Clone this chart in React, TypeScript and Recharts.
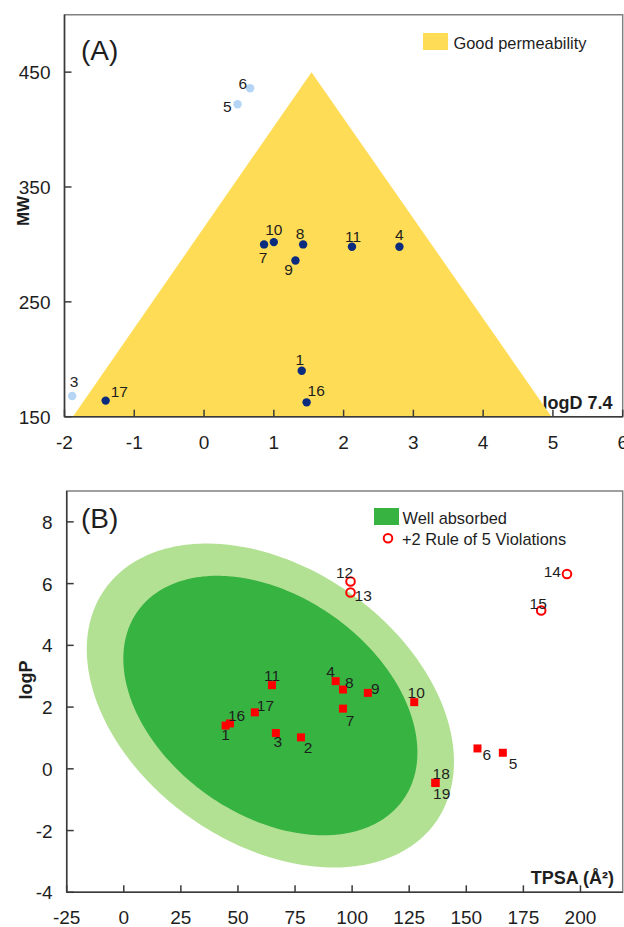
import React from "react";
import { ComposedChart, Area, Scatter, XAxis, YAxis, ReferenceArea } from "recharts";

const FONT = "'Liberation Sans', Arial, Helvetica, sans-serif";
const AXIS = "#3a3a3a";
const FRAME = "#808080";
const TEXT = "#1e1e1e";

// ---------------- Panel A data ----------------
const aXTicks = [-2, -1, 0, 1, 2, 3, 4, 5, 6];
const aYTicks = [150, 250, 350, 450];
const aDomainX: [number, number] = [-2, 6];
const aDomainY: [number, number] = [150, 500];

// "Good permeability" triangle vertices (logD, MW)
const permeabilityLogD = [-1.88, 1.54, 4.98];
const permeabilityMW = [150, 450, 150];

const aGoodIds = [1, 4, 7, 8, 9, 10, 11, 16, 17];
const aGoodLogD = [1.4, 2.8, 0.86, 1.42, 1.31, 1.0, 2.12, 1.47, -1.41];
const aGoodMW = [190, 298, 300, 300, 286, 302, 298, 162.5, 164];

const aPoorIds = [3, 5, 6];
const aPoorLogD = [-1.89, 0.48, 0.66];
const aPoorMW = [168, 422, 436];

// ---------------- Panel B data ----------------
const bXTicks = [-25, 0, 25, 50, 75, 100, 125, 150, 175, 200];
const bYTicks = [-4, -2, 0, 2, 4, 6, 8];
const bDomainX: [number, number] = [-25, 218.5];
const bDomainY: [number, number] = [-4, 9];

const bIds = [1, 2, 3, 4, 5, 6, 7, 8, 9, 10, 11, 16, 17, 18, 19];
const bTPSA = [44.6, 77.6, 66.6, 92.8, 166.0, 154.9, 96.0, 96.0, 106.9, 127.2, 64.9, 46.5, 57.4, 136.4, 136.6];
const bLogP = [1.4, 1.02, 1.16, 2.84, 0.52, 0.66, 1.95, 2.57, 2.46, 2.16, 2.71, 1.47, 1.83, -0.45, -0.46];

const violIds = [12, 13, 14, 15];
const violTPSA = [99.3, 99.3, 194.1, 182.8];
const violLogP = [6.07, 5.71, 6.31, 5.13];

// Absorption ellipses: centre and conjugate semi-axis vectors (TPSA, logP)
const eggCenterTPSA = 64.2;
const eggCenterLogP = 2.05;
const outerEggU: [number, number] = [72.5, -3.77];
const outerEggV: [number, number] = [-34.8, -3.65];
const innerEggU: [number, number] = [58.1, -3.06];
const innerEggV: [number, number] = [-27.8, -2.88];

// ---------------- label placement (style) ----------------
type Place = [number, number, "start" | "middle" | "end"];
const aLabelPlace: Record<number, Place> = {
  1: [-2, -6, "middle"],
  3: [2, -9, "middle"],
  4: [0, -7, "middle"],
  5: [-6, 8, "end"],
  6: [-3, 1, "end"],
  7: [-1, 19, "middle"],
  8: [-3, -5, "middle"],
  9: [-7, 15, "middle"],
  10: [0, -7, "middle"],
  11: [1, -5, "middle"],
  16: [1, -6, "start"],
  17: [5, -4, "start"],
};
const bLabelPlace: Record<number, Place> = {
  1: [0, 14, "middle"],
  2: [7, 16, "middle"],
  3: [2, 14, "middle"],
  4: [-5, -4, "middle"],
  5: [6, 16, "start"],
  6: [5, 12, "start"],
  7: [7, 17, "middle"],
  8: [2, -1, "start"],
  9: [3, 1, "start"],
  10: [2, -4, "middle"],
  11: [0, -4, "middle"],
  12: [-6, -3, "middle"],
  13: [4, 8, "start"],
  14: [-6, 3, "end"],
  15: [-3, -1, "middle"],
  16: [-2, -2, "start"],
  17: [2, -1, "start"],
  18: [6, -4, "middle"],
  19: [6, 16, "middle"],
};

// ---------------- build tables ----------------
const triangleData = permeabilityLogD.map((x, i) => ({ x, tri: [150, permeabilityMW[i]] }));
const aGood = aGoodIds.map((id, i) => ({ id, x: aGoodLogD[i], y: aGoodMW[i] }));
const aPoor = aPoorIds.map((id, i) => ({ id, x: aPoorLogD[i], y: aPoorMW[i] }));
const bPoints = bIds.map((id, i) => ({ id, x: bTPSA[i], y: bLogP[i] }));
const bViol = violIds.map((id, i) => ({ id, x: violTPSA[i], y: violLogP[i] }));

type Egg = { u: [number, number]; v: [number, number] };
const outerEgg: Egg = { u: outerEggU, v: outerEggV };
const innerEgg: Egg = { u: innerEggU, v: innerEggV };
const halfWidth = (e: Egg) => Math.hypot(e.u[0], e.v[0]);
function eggRange(e: Egg, x: number): [number, number] | null {
  const R = halfWidth(e);
  const c = (x - eggCenterTPSA) / R;
  if (c < -1 - 1e-9 || c > 1 + 1e-9) return null;
  const phi = Math.atan2(e.v[0], e.u[0]);
  const a = Math.acos(Math.max(-1, Math.min(1, c)));
  const y1 = eggCenterLogP + e.u[1] * Math.cos(phi + a) + e.v[1] * Math.sin(phi + a);
  const y2 = eggCenterLogP + e.u[1] * Math.cos(phi - a) + e.v[1] * Math.sin(phi - a);
  return [Math.min(y1, y2), Math.max(y1, y2)];
}
const eggXs: number[] = [];
[outerEgg, innerEgg].forEach((e) => {
  const R = halfWidth(e);
  const N = 72;
  for (let i = 0; i <= N; i++) eggXs.push(eggCenterTPSA - R * Math.cos((Math.PI * i) / N));
});
eggXs.sort((p, q) => p - q);
const eggData = eggXs.map((x) => ({ x, outer: eggRange(outerEgg, x), inner: eggRange(innerEgg, x) }));

// ---------------- ticks ----------------
const XTick = (props: any) => {
  const { x, y, payload } = props;
  return (
    <g>
      <line x1={x} x2={x} y1={y} y2={y - 7} stroke={AXIS} strokeWidth={1.5} />
      <text x={x} y={y + 32} textAnchor="middle" fontSize={19} fill={TEXT} fontFamily={FONT}>
        {payload.value}
      </text>
    </g>
  );
};
const YTick = (props: any) => {
  const { x, y, payload } = props;
  return (
    <g>
      <line x1={x} x2={x + 7} y1={y} y2={y} stroke={AXIS} strokeWidth={1.5} />
      <text x={x - 14} y={y + 7} textAnchor="end" fontSize={19} fill={TEXT} fontFamily={FONT}>
        {payload.value}
      </text>
    </g>
  );
};

const label = (cx: number, cy: number, id: number, place: Record<number, Place>) => {
  const p = place[id] || [0, -6, "middle"];
  return (
    <text x={cx + p[0]} y={cy + p[1]} textAnchor={p[2]} fontSize={15.5} fill={TEXT} fontFamily={FONT}>
      {id}
    </text>
  );
};

const darkDot = (props: any) => (
  <g>
    <circle cx={props.cx} cy={props.cy} r={4.2} fill="#0B2C7E" />
    {label(props.cx, props.cy, props.payload.id, aLabelPlace)}
  </g>
);
const lightDot = (props: any) => (
  <g>
    <circle cx={props.cx} cy={props.cy} r={4.2} fill="#B5D5F5" />
    {label(props.cx, props.cy, props.payload.id, aLabelPlace)}
  </g>
);
const redSquare = (props: any) => (
  <g>
    <rect x={props.cx - 4} y={props.cy - 4} width={8} height={8} fill="#FF0000" />
    {label(props.cx, props.cy, props.payload.id, bLabelPlace)}
  </g>
);
const redRing = (props: any) => (
  <g>
    <circle cx={props.cx} cy={props.cy} r={4.3} fill="none" stroke="#FF0000" strokeWidth={2} />
    {label(props.cx, props.cy, props.payload.id, bLabelPlace)}
  </g>
);

const YELLOW = "#FFDC55";
const LIGHTGREEN = "#B3E193";
const GREEN = "#37B342";

export default function App() {
  return (
    <div style={{ position: "absolute", left: 0, top: 0, width: 624, height: 927, background: "#fff" }}>
      <div style={{ position: "absolute", left: 0, top: 0 }}>
        <ComposedChart
          width={624}
          height={460}
          data={triangleData}
          margin={{ top: 14.7, right: 1.3, bottom: 13.3, left: 14.5 }}
        >
          <XAxis
            type="number"
            dataKey="x"
            domain={aDomainX}
            ticks={aXTicks}
            allowDataOverflow
            height={30}
            tickSize={0}
            tickMargin={0}
            tickLine={false}
            axisLine={{ stroke: AXIS, strokeWidth: 1.5 }}
            tick={<XTick />}
            interval={0}
          />
          <YAxis
            type="number"
            dataKey="y"
            domain={aDomainY}
            ticks={aYTicks}
            allowDataOverflow
            width={50}
            tickSize={0}
            tickMargin={0}
            tickLine={false}
            axisLine={{ stroke: AXIS, strokeWidth: 1.5 }}
            tick={<YTick />}
            interval={0}
          />
          <ReferenceArea
            x1={aDomainX[0]}
            x2={aDomainX[1]}
            y1={aDomainY[0]}
            y2={aDomainY[1]}
            fill="none"
            stroke={FRAME}
            strokeWidth={1.5}
          />
          <Area
            dataKey="tri"
            type="linear"
            stroke="none"
            fill={YELLOW}
            fillOpacity={1}
            dot={false}
            activeDot={false}
            isAnimationActive={false}
          />
          <Scatter data={aPoor} shape={lightDot} isAnimationActive={false} />
          <Scatter data={aGood} shape={darkDot} isAnimationActive={false} />
          <text x={81} y={60} fontSize={28} fill={TEXT} fontFamily={FONT}>(A)</text>
          <rect x={423} y={33} width={25} height={17} fill={YELLOW} />
          <text x={453.5} y={48.5} fontSize={16.4} fill={TEXT} fontFamily={FONT}>Good permeability</text>
          <text x={612.5} y={409} textAnchor="end" fontSize={18} fontWeight="bold" fill={TEXT} fontFamily={FONT}>logD 7.4</text>
          <text
            x={0}
            y={0}
            transform="translate(29,211) rotate(-90)"
            textAnchor="middle"
            fontSize={17}
            fontWeight="bold"
            fill={TEXT}
            fontFamily={FONT}
          >
            MW
          </text>
        </ComposedChart>
      </div>

      <div style={{ position: "absolute", left: 0, top: 460 }}>
        <ComposedChart
          width={624}
          height={467}
          data={eggData}
          margin={{ top: 31, right: 1.3, bottom: 4.7, left: 16.7 }}
        >
          <XAxis
            type="number"
            dataKey="x"
            domain={bDomainX}
            ticks={bXTicks}
            allowDataOverflow
            height={30}
            tickSize={0}
            tickMargin={0}
            tickLine={false}
            axisLine={{ stroke: AXIS, strokeWidth: 1.5 }}
            tick={<XTick />}
            interval={0}
          />
          <YAxis
            type="number"
            dataKey="y"
            domain={bDomainY}
            ticks={bYTicks}
            allowDataOverflow
            width={50}
            tickSize={0}
            tickMargin={0}
            tickLine={false}
            axisLine={{ stroke: AXIS, strokeWidth: 1.5 }}
            tick={<YTick />}
            interval={0}
          />
          <ReferenceArea
            x1={bDomainX[0]}
            x2={bDomainX[1]}
            y1={bDomainY[0]}
            y2={bDomainY[1]}
            fill="none"
            stroke={FRAME}
            strokeWidth={1.5}
          />
          <Area
            dataKey="outer"
            type="linear"
            stroke="none"
            fill={LIGHTGREEN}
            fillOpacity={1}
            dot={false}
            activeDot={false}
            isAnimationActive={false}
          />
          <Area
            dataKey="inner"
            type="linear"
            stroke="none"
            fill={GREEN}
            fillOpacity={1}
            dot={false}
            activeDot={false}
            isAnimationActive={false}
          />
          <Scatter data={bViol} shape={redRing} isAnimationActive={false} />
          <Scatter data={bPoints} shape={redSquare} isAnimationActive={false} />
          <text x={81} y={68} fontSize={28} fill={TEXT} fontFamily={FONT}>(B)</text>
          <rect x={374} y={48} width={25} height={17} fill={GREEN} />
          <text x={402.5} y={64} fontSize={16.4} fill={TEXT} fontFamily={FONT}>Well absorbed</text>
          <circle cx={388} cy={78.3} r={4.3} fill="none" stroke="#FF0000" strokeWidth={2} />
          <text x={402} y={84.5} fontSize={16.4} fill={TEXT} fontFamily={FONT}>+2 Rule of 5 Violations</text>
          <text x={614} y={424} textAnchor="end" fontSize={18} fontWeight="bold" fill={TEXT} fontFamily={FONT}>TPSA (Å²)</text>
          <text
            x={0}
            y={0}
            transform="translate(32,220) rotate(-90)"
            textAnchor="middle"
            fontSize={18}
            fontWeight="bold"
            fill={TEXT}
            fontFamily={FONT}
          >
            logP
          </text>
        </ComposedChart>
      </div>
    </div>
  );
}
